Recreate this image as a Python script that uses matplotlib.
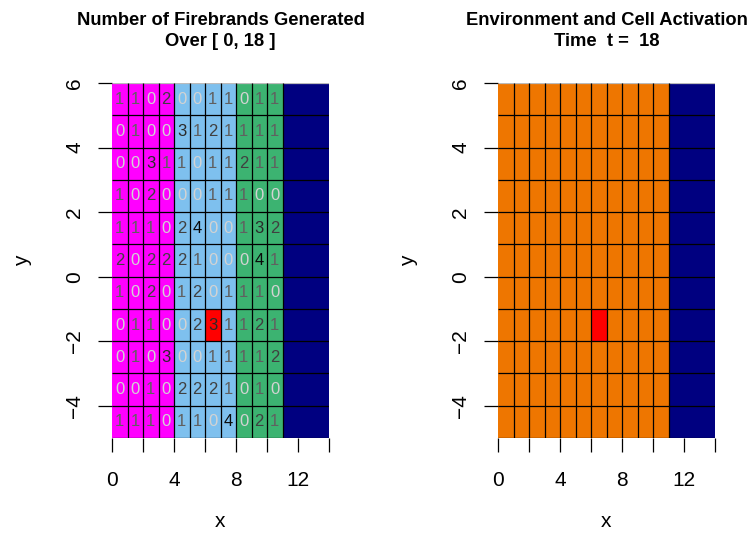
import matplotlib.pyplot as plt
import numpy as np
from matplotlib.colors import ListedColormap

plt.rcParams['font.family'] = ['Liberation Sans', 'DejaVu Sans']

# firebrand counts per cell, rows from top (y = 5..6) to bottom (y = -5..-4)
firebrands = [
    [1, 1, 0, 2, 0, 0, 1, 1, 0, 1, 1],
    [0, 1, 0, 0, 3, 1, 2, 1, 1, 1, 1],
    [0, 0, 3, 1, 1, 0, 1, 1, 2, 1, 1],
    [1, 0, 2, 0, 0, 0, 1, 1, 1, 0, 0],
    [1, 1, 1, 0, 2, 4, 0, 0, 1, 3, 2],
    [2, 0, 2, 2, 2, 1, 0, 0, 0, 4, 1],
    [1, 0, 2, 0, 1, 2, 0, 1, 1, 1, 0],
    [0, 1, 1, 0, 0, 2, 3, 1, 1, 2, 1],
    [0, 1, 0, 3, 0, 0, 1, 1, 1, 1, 2],
    [0, 0, 1, 0, 2, 2, 2, 1, 0, 1, 0],
    [1, 1, 1, 0, 1, 1, 0, 4, 0, 2, 1],
]

x_edges = np.arange(0, 15)
y_edges = np.arange(-5, 7)
n_land = 11  # columns 0..10 are land, 11..13 water

# cell type codes per column: 0 shrub, 1 grass, 2 timber, 3 water
env_cols = [0, 0, 0, 0, 1, 1, 1, 1, 2, 2, 2, 3, 3, 3]
# right panel: 4 unburnt, 3 water
state_cols = [4] * 11 + [3] * 3
burning = (6, -2)  # lower-left corner of the active cell

palette = ['#FF00FF', '#7EC0EE', '#3CB371', '#000080', '#EE7600', '#FF0000']
cmap = ListedColormap(palette)

text_gray = ['#D3D3D3', '#606060', '#404040', '#2A2A2A', '#0A0A0A']

n_rows = len(y_edges) - 1
env_grid = np.tile(env_cols, (n_rows, 1))
state_grid = np.tile(state_cols, (n_rows, 1))
bj = int(burning[0] - x_edges[0])
bi = int(burning[1] - y_edges[0])
env_grid[bi, bj] = 5
state_grid[bi, bj] = 5

fig = plt.figure(figsize=(7.51, 5.38), dpi=100)
ax1 = fig.add_axes([112 / 751, 1 - 438 / 538, 217 / 751, 355 / 538])
ax2 = fig.add_axes([498 / 751, 1 - 438 / 538, 217 / 751, 355 / 538])


def draw_grid(ax, grid):
    ax.pcolormesh(x_edges, y_edges, grid, cmap=cmap, vmin=-0.5, vmax=5.5)
    ax.hlines(y_edges[:-1], x_edges[0], x_edges[-1], colors='black', lw=0.9)
    ax.hlines(y_edges[-1], x_edges[0], x_edges[-1], colors='#BBBBBB', lw=0.9)
    ax.vlines(x_edges[1:n_land + 1], y_edges[0], y_edges[-1], colors='black', lw=0.9)
    ax.set_xlim(x_edges[0], x_edges[-1])
    ax.set_ylim(y_edges[0], y_edges[-1])
    for s in ax.spines.values():
        s.set_visible(False)
    ax.set_xticks(np.arange(0, 15, 2))
    ax.set_xticklabels(['0', '', '4', '', '8', '', '12', ''])
    ax.set_yticks(np.arange(-4, 7, 2))
    ax.set_yticklabels([str(v).replace('-', '\u2212') for v in range(-4, 7, 2)],
                       rotation=90, va='center')
    ax.tick_params(axis='x', length=10, width=0.9, pad=13.5, labelsize=15)
    ax.tick_params(axis='y', length=10, width=0.9, pad=10, labelsize=15)
    ax.set_xlabel('x', fontsize=15, labelpad=16)
    ax.set_ylabel('y', fontsize=15, labelpad=24)


draw_grid(ax1, env_grid)
for i, row in enumerate(firebrands):
    yc = y_edges[-1] - 0.5 - i
    for j, v in enumerate(row):
        ax1.text(x_edges[j] + 0.5, yc, str(v), ha='center', va='center',
                 fontsize=12, color=text_gray[v])
ax1.set_title('Number of Firebrands Generated\nOver [ 0, 18 ]',
              fontsize=13.2, fontweight='bold', linespacing=1.3, pad=27)

draw_grid(ax2, state_grid)
ax2.set_title('Environment and Cell Activation\nTime  t =  18',
              fontsize=13.2, fontweight='bold', linespacing=1.3, pad=27)

fig.savefig('out.png', dpi=100)
